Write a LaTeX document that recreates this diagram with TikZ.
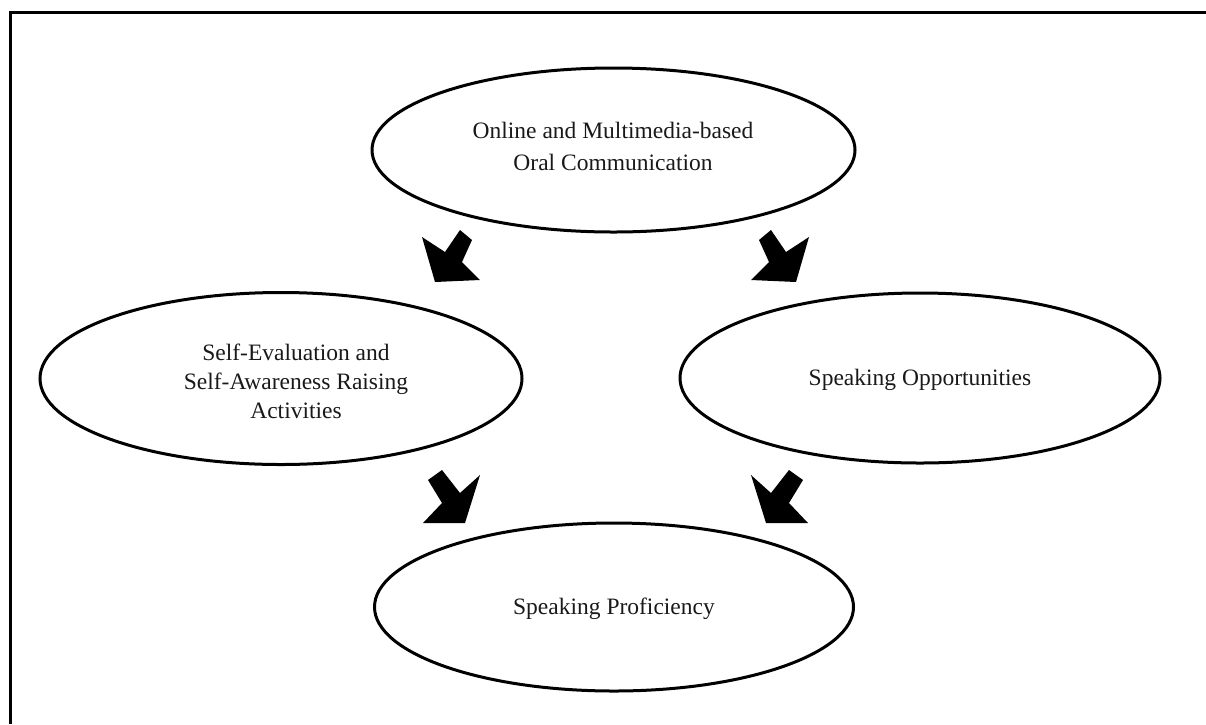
\documentclass[tikz,border=0pt]{standalone}
\usepackage{fontspec}
\setmainfont{Liberation Serif}
\usetikzlibrary{shapes.geometric}
\begin{document}
\begin{tikzpicture}[x=1pt,y=-1pt,
  oval/.style={draw=black,line width=3pt,ellipse,inner sep=0pt},
  lbl/.style={align=center,font=\fontsize{23.5}{29}\selectfont,inner sep=0pt,text=black!90},
  blockarrow/.style={fill=black,draw=none}]
\useasboundingbox (0,0) rectangle (1206,724);
\draw[line width=3pt] (10,724) -- (10,12) -- (1206,12);
% ellipses
\node[oval,minimum width=483pt,minimum height=164pt] (top) at (613.5,150) {};
\node[oval,minimum width=482pt,minimum height=172pt] (left) at (281,378.5) {};
\node[oval,minimum width=480pt,minimum height=170pt] (right) at (920,378) {};
\node[oval,minimum width=479pt,minimum height=168pt] (bottom) at (614,607) {};
% labels
\node[lbl,font=\fontsize{23.5}{32}\selectfont] (ttop) at (613,146) {Online and Multimedia-based\\Oral Communication};
\node[lbl] (tleft) at (296,381) {Self-Evaluation and\\Self-Awareness Raising\\Activities};
\node[lbl] (tright) at (920,380) {Speaking Opportunities};
\node[lbl] (tbottom) at (614,609) {Speaking Proficiency};
% block arrows
\fill[blockarrow] (460,230) -- (472,240) -- (462,262) -- (480,280) -- (435,282) -- (422,237) -- (445,252) -- cycle;
\fill[blockarrow] (771,230) -- (759,240) -- (769,262) -- (751,280) -- (796,282) -- (809,237) -- (786,252) -- cycle;
\fill[blockarrow] (442,470) -- (428,480) -- (442,503) -- (423,523) -- (465,523) -- (480,475) -- (460,493) -- cycle;
\fill[blockarrow] (789,470) -- (803,480) -- (789,503) -- (808,523) -- (766,523) -- (751,475) -- (771,493) -- cycle;
\end{tikzpicture}
\end{document}
